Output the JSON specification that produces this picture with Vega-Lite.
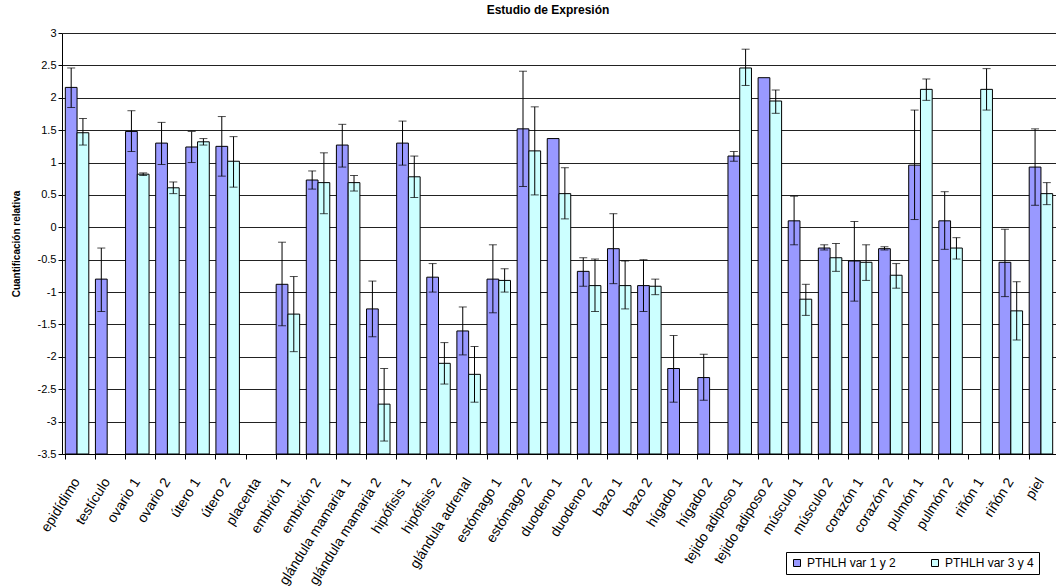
{
  "$schema": "https://vega.github.io/schema/vega-lite/v6.json",
  "width": 994,
  "height": 421,
  "autosize": {"type": "none"},
  "padding": {"left": 62, "top": 33, "right": 0, "bottom": 133},
  "title": {"text": "Estudio de Expresión", "fontSize": 12, "fontWeight": "bold", "font": "Liberation Sans", "color": "black", "offset": 10, "dx": -11},
  "config": {
    "view": {"stroke": null},
    "font": "Liberation Sans",
    "axis": {"labelFont": "Liberation Sans", "titleFont": "Liberation Sans", "labelColor": "black", "titleColor": "black", "domainColor": "black", "tickColor": "black"}
  },
  "data": {"values": [
    {"cat": "epidídimo", "serie": "PTHLH var 1 y 2", "v": 2.16, "lo": 1.85, "hi": 2.46},
    {"cat": "epidídimo", "serie": "PTHLH var 3 y 4", "v": 1.46, "lo": 1.27, "hi": 1.68},
    {"cat": "testículo", "serie": "PTHLH var 1 y 2", "v": -0.80, "lo": -1.30, "hi": -0.32},
    {"cat": "ovario 1", "serie": "PTHLH var 1 y 2", "v": 1.48, "lo": 1.17, "hi": 1.80},
    {"cat": "ovario 1", "serie": "PTHLH var 3 y 4", "v": 0.82, "lo": 0.80, "hi": 0.84},
    {"cat": "ovario 2", "serie": "PTHLH var 1 y 2", "v": 1.30, "lo": 0.97, "hi": 1.62},
    {"cat": "ovario 2", "serie": "PTHLH var 3 y 4", "v": 0.61, "lo": 0.52, "hi": 0.70},
    {"cat": "útero 1", "serie": "PTHLH var 1 y 2", "v": 1.24, "lo": 1.00, "hi": 1.48},
    {"cat": "útero 1", "serie": "PTHLH var 3 y 4", "v": 1.32, "lo": 1.27, "hi": 1.37},
    {"cat": "útero 2", "serie": "PTHLH var 1 y 2", "v": 1.25, "lo": 0.79, "hi": 1.71},
    {"cat": "útero 2", "serie": "PTHLH var 3 y 4", "v": 1.02, "lo": 0.62, "hi": 1.40},
    {"cat": "embrión 1", "serie": "PTHLH var 1 y 2", "v": -0.88, "lo": -1.52, "hi": -0.23},
    {"cat": "embrión 1", "serie": "PTHLH var 3 y 4", "v": -1.34, "lo": -1.92, "hi": -0.76},
    {"cat": "embrión 2", "serie": "PTHLH var 1 y 2", "v": 0.73, "lo": 0.59, "hi": 0.87},
    {"cat": "embrión 2", "serie": "PTHLH var 3 y 4", "v": 0.69, "lo": 0.21, "hi": 1.15},
    {"cat": "glándula mamaria 1", "serie": "PTHLH var 1 y 2", "v": 1.27, "lo": 0.93, "hi": 1.59},
    {"cat": "glándula mamaria 1", "serie": "PTHLH var 3 y 4", "v": 0.69, "lo": 0.56, "hi": 0.80},
    {"cat": "glándula mamaria 2", "serie": "PTHLH var 1 y 2", "v": -1.26, "lo": -1.69, "hi": -0.83},
    {"cat": "glándula mamaria 2", "serie": "PTHLH var 3 y 4", "v": -2.73, "lo": -3.30, "hi": -2.18},
    {"cat": "hipófisis 1", "serie": "PTHLH var 1 y 2", "v": 1.30, "lo": 0.96, "hi": 1.64},
    {"cat": "hipófisis 1", "serie": "PTHLH var 3 y 4", "v": 0.78, "lo": 0.46, "hi": 1.10},
    {"cat": "hipófisis 2", "serie": "PTHLH var 1 y 2", "v": -0.77, "lo": -1.00, "hi": -0.56},
    {"cat": "hipófisis 2", "serie": "PTHLH var 3 y 4", "v": -2.10, "lo": -2.42, "hi": -1.78},
    {"cat": "glándula adrenal", "serie": "PTHLH var 1 y 2", "v": -1.60, "lo": -1.97, "hi": -1.23},
    {"cat": "glándula adrenal", "serie": "PTHLH var 3 y 4", "v": -2.27, "lo": -2.70, "hi": -1.84},
    {"cat": "estómago 1", "serie": "PTHLH var 1 y 2", "v": -0.80, "lo": -1.32, "hi": -0.27},
    {"cat": "estómago 1", "serie": "PTHLH var 3 y 4", "v": -0.82, "lo": -1.00, "hi": -0.64},
    {"cat": "estómago 2", "serie": "PTHLH var 1 y 2", "v": 1.52, "lo": 0.63, "hi": 2.41},
    {"cat": "estómago 2", "serie": "PTHLH var 3 y 4", "v": 1.18, "lo": 0.50, "hi": 1.86},
    {"cat": "duodeno 1", "serie": "PTHLH var 1 y 2", "v": 1.37, "lo": null, "hi": null},
    {"cat": "duodeno 1", "serie": "PTHLH var 3 y 4", "v": 0.52, "lo": 0.13, "hi": 0.92},
    {"cat": "duodeno 2", "serie": "PTHLH var 1 y 2", "v": -0.68, "lo": -0.91, "hi": -0.47},
    {"cat": "duodeno 2", "serie": "PTHLH var 3 y 4", "v": -0.90, "lo": -1.30, "hi": -0.49},
    {"cat": "bazo 1", "serie": "PTHLH var 1 y 2", "v": -0.33, "lo": -0.87, "hi": 0.21},
    {"cat": "bazo 1", "serie": "PTHLH var 3 y 4", "v": -0.90, "lo": -1.26, "hi": -0.52},
    {"cat": "bazo 2", "serie": "PTHLH var 1 y 2", "v": -0.90, "lo": -1.30, "hi": -0.50},
    {"cat": "bazo 2", "serie": "PTHLH var 3 y 4", "v": -0.91, "lo": -1.04, "hi": -0.80},
    {"cat": "hígado 1", "serie": "PTHLH var 1 y 2", "v": -2.18, "lo": -2.70, "hi": -1.67},
    {"cat": "hígado 2", "serie": "PTHLH var 1 y 2", "v": -2.32, "lo": -2.67, "hi": -1.96},
    {"cat": "tejido adiposo 1", "serie": "PTHLH var 1 y 2", "v": 1.10, "lo": 1.02, "hi": 1.17},
    {"cat": "tejido adiposo 1", "serie": "PTHLH var 3 y 4", "v": 2.46, "lo": 2.19, "hi": 2.75},
    {"cat": "tejido adiposo 2", "serie": "PTHLH var 1 y 2", "v": 2.31, "lo": null, "hi": null},
    {"cat": "tejido adiposo 2", "serie": "PTHLH var 3 y 4", "v": 1.95, "lo": 1.76, "hi": 2.12},
    {"cat": "músculo 1", "serie": "PTHLH var 1 y 2", "v": 0.10, "lo": -0.27, "hi": 0.48},
    {"cat": "músculo 1", "serie": "PTHLH var 3 y 4", "v": -1.11, "lo": -1.36, "hi": -0.88},
    {"cat": "músculo 2", "serie": "PTHLH var 1 y 2", "v": -0.32, "lo": -0.35, "hi": -0.27},
    {"cat": "músculo 2", "serie": "PTHLH var 3 y 4", "v": -0.47, "lo": -0.68, "hi": -0.25},
    {"cat": "corazón 1", "serie": "PTHLH var 1 y 2", "v": -0.52, "lo": -1.14, "hi": 0.09},
    {"cat": "corazón 1", "serie": "PTHLH var 3 y 4", "v": -0.54, "lo": -0.82, "hi": -0.27},
    {"cat": "corazón 2", "serie": "PTHLH var 1 y 2", "v": -0.33, "lo": -0.35, "hi": -0.30},
    {"cat": "corazón 2", "serie": "PTHLH var 3 y 4", "v": -0.74, "lo": -0.94, "hi": -0.56},
    {"cat": "pulmón 1", "serie": "PTHLH var 1 y 2", "v": 0.96, "lo": 0.12, "hi": 1.81},
    {"cat": "pulmón 1", "serie": "PTHLH var 3 y 4", "v": 2.13, "lo": 1.96, "hi": 2.29},
    {"cat": "pulmón 2", "serie": "PTHLH var 1 y 2", "v": 0.10, "lo": -0.34, "hi": 0.55},
    {"cat": "pulmón 2", "serie": "PTHLH var 3 y 4", "v": -0.32, "lo": -0.49, "hi": -0.16},
    {"cat": "riñón 1", "serie": "PTHLH var 3 y 4", "v": 2.13, "lo": 1.81, "hi": 2.45},
    {"cat": "riñón 2", "serie": "PTHLH var 1 y 2", "v": -0.54, "lo": -1.07, "hi": -0.03},
    {"cat": "riñón 2", "serie": "PTHLH var 3 y 4", "v": -1.29, "lo": -1.74, "hi": -0.84},
    {"cat": "piel", "serie": "PTHLH var 1 y 2", "v": 0.93, "lo": 0.34, "hi": 1.52},
    {"cat": "piel", "serie": "PTHLH var 3 y 4", "v": 0.52, "lo": 0.35, "hi": 0.69}
  ]},
  "encoding": {
    "x": {
      "field": "cat", "type": "nominal", "sort": null,
      "scale": {"domain": ["epidídimo", "testículo", "ovario 1", "ovario 2", "útero 1", "útero 2", "placenta", "embrión 1", "embrión 2", "glándula mamaria 1", "glándula mamaria 2", "hipófisis 1", "hipófisis 2", "glándula adrenal", "estómago 1", "estómago 2", "duodeno 1", "duodeno 2", "bazo 1", "bazo 2", "hígado 1", "hígado 2", "tejido adiposo 1", "tejido adiposo 2", "músculo 1", "músculo 2", "corazón 1", "corazón 2", "pulmón 1", "pulmón 2", "riñón 1", "riñón 2", "piel"], "paddingInner": 0.22, "paddingOuter": 0.11},
      "axis": {"title": null, "labelAngle": -58, "labelAlign": "right", "labelBaseline": "middle", "labelFontSize": 14, "labelPadding": 20, "tickSize": 5, "bandPosition": 0, "grid": false, "domainWidth": 1, "labelOverlap": false, "labelBound": false, "labelLimit": 0}
    },
    "xOffset": {"field": "serie", "type": "nominal", "scale": {"domain": ["PTHLH var 1 y 2", "PTHLH var 3 y 4"], "paddingInner": 0, "paddingOuter": 0}}
  },
  "layer": [
    {
      "mark": {"type": "bar", "stroke": "black", "strokeWidth": 1, "opacity": 1},
      "encoding": {
        "y": {"field": "v", "type": "quantitative",
          "scale": {"domain": [-3.5, 3], "nice": false, "zero": false},
          "axis": {"title": "Cuantificación relativa", "titleFontSize": 10, "titleFontWeight": "bold", "titlePadding": 16, "values": [-3.5, -3, -2.5, -2, -1.5, -1, -0.5, 0, 0.5, 1, 1.5, 2, 2.5, 3], "tickCount": 30, "labelExpr": "toString(datum.value)", "labelOverlap": false, "labelFlush": false, "labelFontSize": 11, "tickSize": 4, "labelPadding": 2, "grid": true, "gridColor": "#222222", "gridWidth": 1, "gridOpacity": 1, "domainColor": "black"}},
        "y2": {"datum": -3.5},
        "color": {"field": "serie", "type": "nominal",
          "scale": {"domain": ["PTHLH var 1 y 2", "PTHLH var 3 y 4"], "range": ["#9999FF", "#CCFFFF"]},
          "legend": {"title": null, "orient": "none", "legendX": 724, "legendY": 519, "direction": "horizontal", "symbolType": "square", "symbolSize": 49, "symbolStrokeColor": "black", "symbolStrokeWidth": 1, "labelFontSize": 12, "labelColor": "black", "labelFont": "Liberation Sans", "strokeColor": "black", "fillColor": "white", "padding": 5, "columnPadding": 33, "labelOffset": 4, "symbolOpacity": 1}}
      }
    },
    {
      "mark": {"type": "rule", "color": "black", "strokeWidth": 1},
      "encoding": {"y": {"field": "lo", "type": "quantitative"}, "y2": {"field": "hi"}}
    },
    {
      "mark": {"type": "tick", "color": "black", "thickness": 1, "size": 8, "orient": "horizontal"},
      "encoding": {"y": {"field": "lo", "type": "quantitative"}}
    },
    {
      "mark": {"type": "tick", "color": "black", "thickness": 1, "size": 8, "orient": "horizontal"},
      "encoding": {"y": {"field": "hi", "type": "quantitative"}}
    }
  ]
}
